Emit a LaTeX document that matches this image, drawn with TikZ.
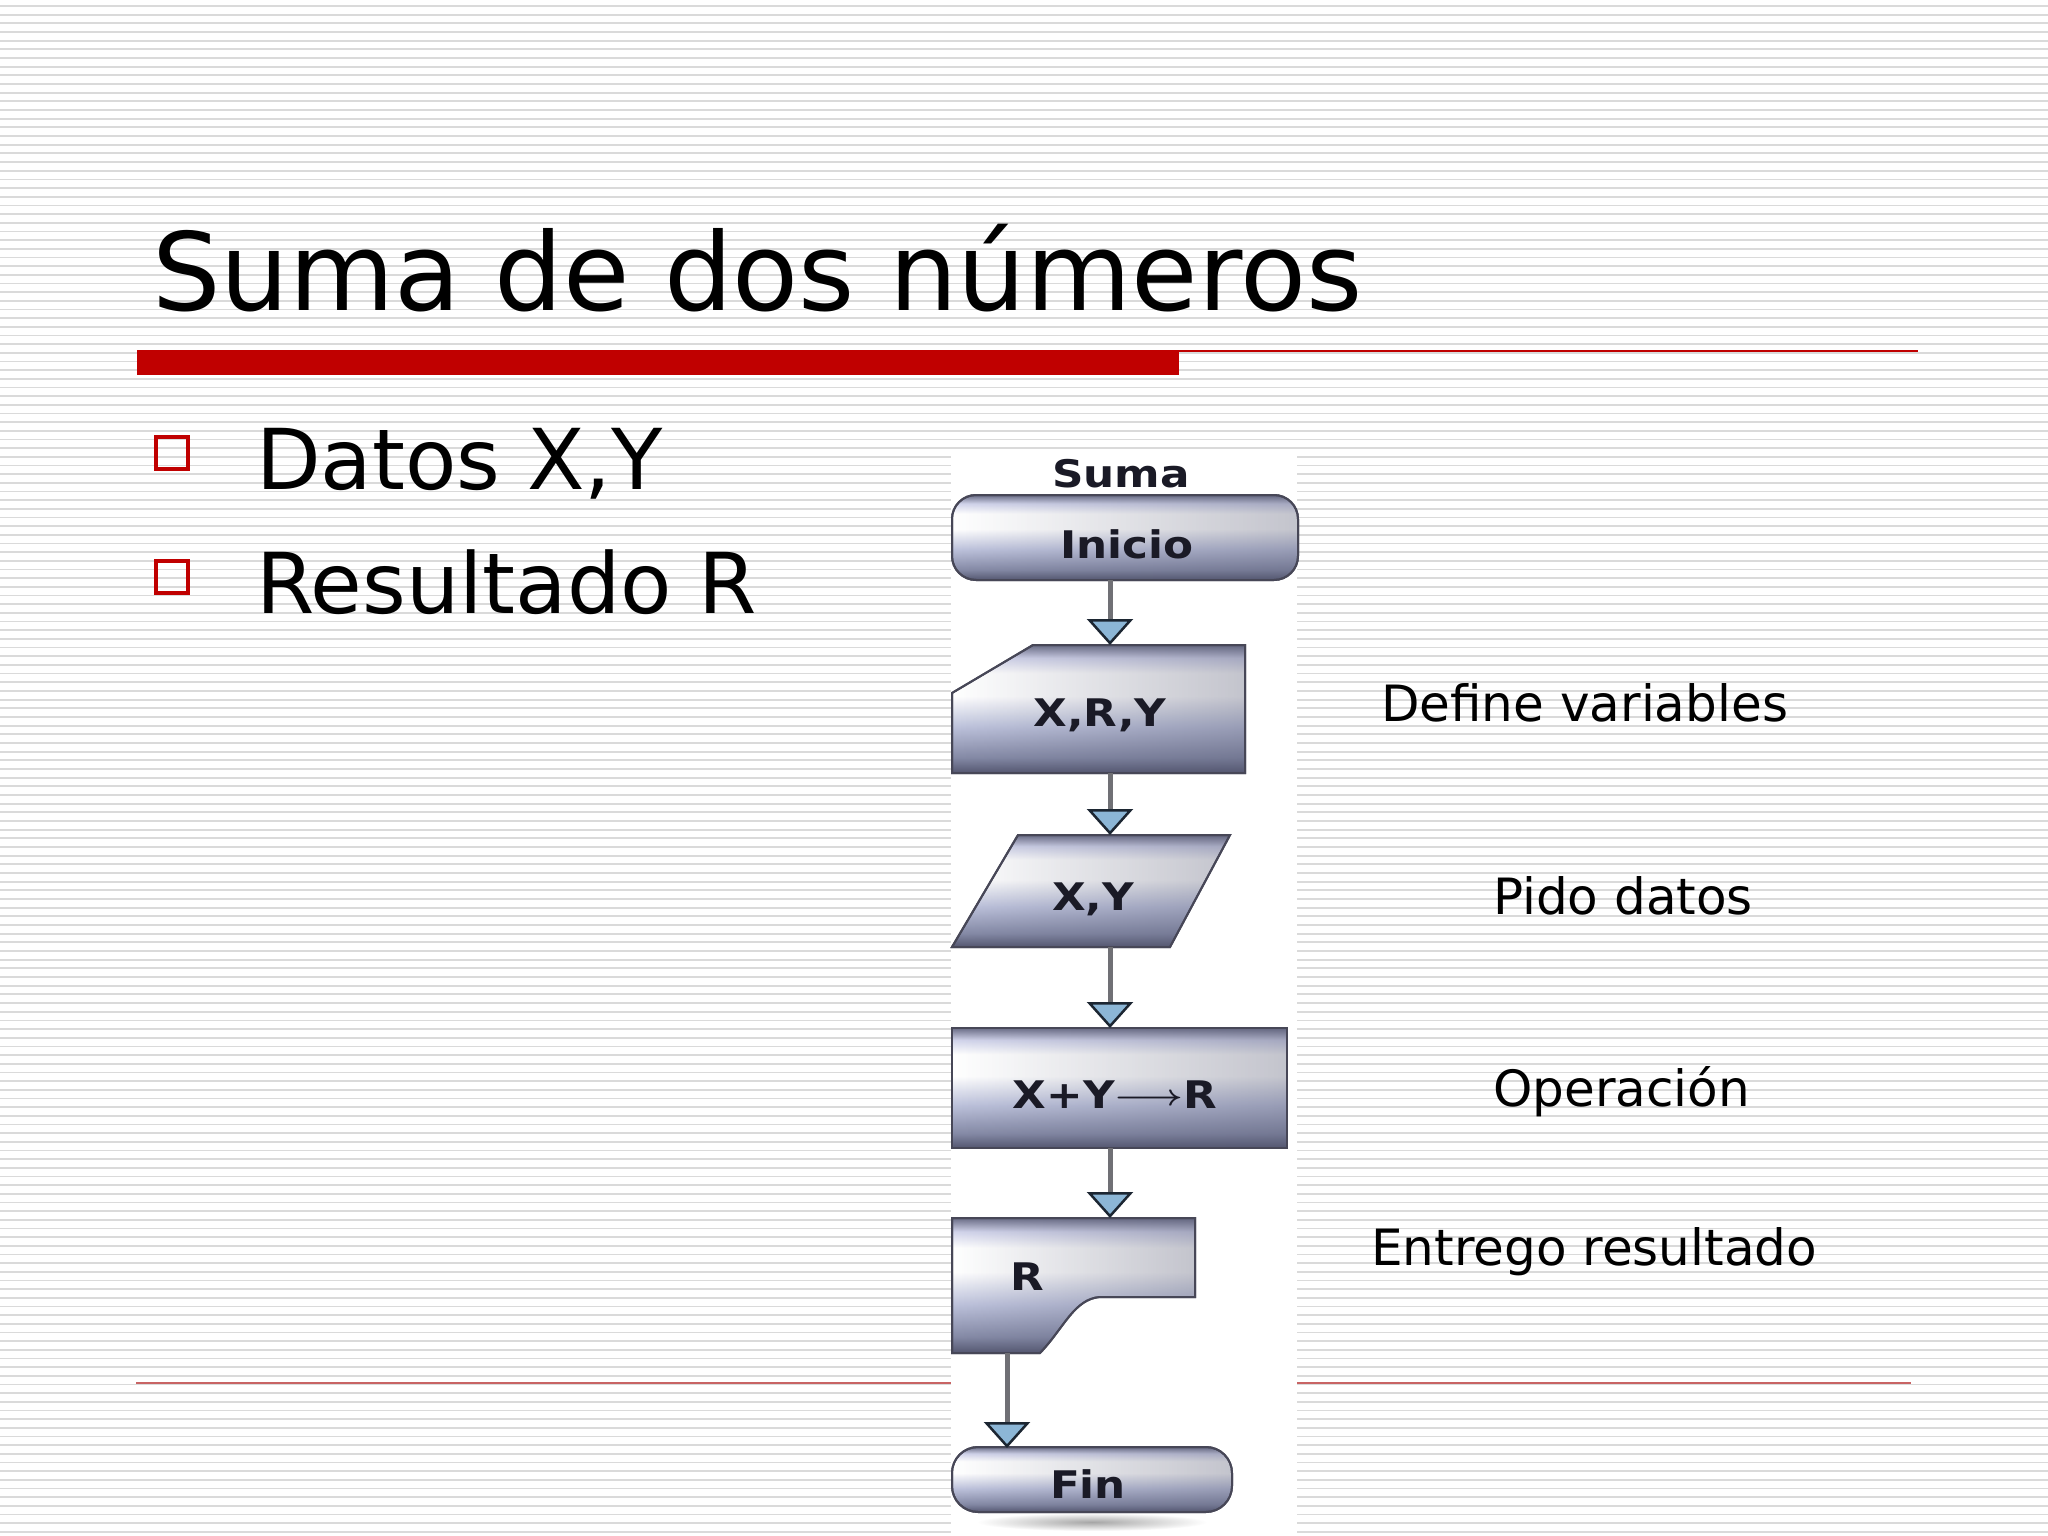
\documentclass[tikz,border=0pt]{standalone}
\usepackage{fontspec}
\setmainfont{DejaVu Sans}
\usepackage{graphicx}
\usetikzlibrary{arrows.meta,fadings}
\definecolor{slidered}{HTML}{C00000}
\definecolor{thinred}{HTML}{C86464}
\definecolor{bgline}{HTML}{DADADA}
\definecolor{m1}{rgb}{0.33,0.34,0.44}
\definecolor{m2}{rgb}{0.52,0.54,0.65}
\definecolor{m3}{rgb}{0.74,0.76,0.86}
\definecolor{m4}{rgb}{0.82,0.83,0.92}
\definecolor{m5}{rgb}{0.42,0.43,0.53}
\definecolor{edgecol}{rgb}{0.28,0.28,0.34}
\definecolor{conncol}{rgb}{0.44,0.44,0.46}
\definecolor{tipblue}{HTML}{8CB6D6}
\definecolor{tipedge}{HTML}{1C2632}
\definecolor{fctxt}{HTML}{1A1A26}
\pgfdeclareverticalshading{metal}{100bp}{color(0bp)=(m1); color(25bp)=(m1); color(31bp)=(m2); color(43bp)=(m3); color(55bp)=(white); color(64bp)=(white); color(70bp)=(m4); color(75bp)=(m5); color(100bp)=(m5)}
\newcommand\fct[1]{\scalebox{1.15}[1]{#1}}
\tikzset{
  metalshape/.style={shading=metal, draw=edgecol, line width=2pt},
  darkside/.style={fill=m1, opacity=0.35, path fading=west},
  fctext/.style={inner sep=0pt, anchor=base, text=fctxt, font=\fontsize{38}{40}\selectfont\bfseries},
  conn/.style={draw=conncol, line width=5pt, -{Triangle[width=46pt,length=26pt,fill=tipblue,color=tipedge,line width=2.5pt]}},
  lbl/.style={inner sep=0pt, anchor=base west, font=\fontsize{50}{60}\selectfont},
  bodytext/.style={inner sep=0pt, anchor=base west, font=\fontsize{84}{100}\selectfont},
  bulletbox/.style={draw=slidered, line width=4.5pt, minimum size=32pt, inner sep=0pt}
}
\begin{document}
\begin{tikzpicture}[x=1pt,y=-1pt]
\useasboundingbox (0,0) rectangle (2048,1536);
\fill[white] (0,0) rectangle (2048,1536);
% background stripes
\foreach \i in {0,...,177} {
  \pgfmathsetmacro{\yy}{6+\i*8.67}
  \draw[bgline, line width=1.8pt] (0,\yy) -- (2048,\yy);
}
% title
\node[inner sep=0pt, anchor=base west, font=\fontsize{108}{120}\selectfont] (title) at (152,310) {Suma de dos números};
\fill[slidered] (137,350) rectangle (1179,375);
\draw[slidered, line width=2pt] (1179,351) -- (1918,351);
\draw[thinred, line width=1.5pt] (136,1383) -- (1911,1383);
% bullets
\node[bulletbox] (b1) at (172,453) {};
\node[bulletbox] (b2) at (172,577) {};
\node[bodytext] (datos) at (256,489) {Datos X,Y};
\node[bodytext] (resul) at (256,613) {Resultado R};
% flowchart backdrop
\fill[white] (951,455) rectangle (1297,1536);
% shadow under Fin
\shade[inner color=black!35, outer color=white] (1092,1522) ellipse [x radius=115, y radius=9];
% Inicio terminator
\shade[metalshape, rounded corners=24pt] (952,495) rectangle (1298,580);
\fill[darkside, rounded corners=24pt] (952,495) rectangle (1298,580);
\draw[edgecol, line width=2pt, rounded corners=24pt] (952,495) rectangle (1298,580);
% X,R,Y manual input
\shade[metalshape] (952,693) -- (1033,645) -- (1245,645) -- (1245,773) -- (952,773) -- cycle;
\fill[darkside] (952,693) -- (1033,645) -- (1245,645) -- (1245,773) -- (952,773) -- cycle;
\draw[edgecol, line width=2pt] (952,693) -- (1033,645) -- (1245,645) -- (1245,773) -- (952,773) -- cycle;
% X,Y parallelogram
\shade[metalshape] (1018,835) -- (1230,835) -- (1170,947) -- (952,947) -- cycle;
\fill[darkside] (1018,835) -- (1230,835) -- (1170,947) -- (952,947) -- cycle;
\draw[edgecol, line width=2pt] (1018,835) -- (1230,835) -- (1170,947) -- (952,947) -- cycle;
% process rectangle
\shade[metalshape] (952,1028) rectangle (1287,1148);
\fill[darkside] (952,1028) rectangle (1287,1148);
\draw[edgecol, line width=2pt] (952,1028) rectangle (1287,1148);
% display shape R
\shade[metalshape] (952,1218) -- (1195,1218) -- (1195,1297) -- (1100,1297) .. controls (1074,1299) and (1064,1328) .. (1040,1353) -- (952,1353) -- cycle;
\fill[darkside] (952,1218) -- (1195,1218) -- (1195,1297) -- (1100,1297) .. controls (1074,1299) and (1064,1328) .. (1040,1353) -- (952,1353) -- cycle;
\draw[edgecol, line width=2pt] (952,1218) -- (1195,1218) -- (1195,1297) -- (1100,1297) .. controls (1074,1299) and (1064,1328) .. (1040,1353) -- (952,1353) -- cycle;
% Fin terminator
\shade[metalshape, rounded corners=26pt] (952,1447) rectangle (1232,1512);
\fill[darkside, rounded corners=26pt] (952,1447) rectangle (1232,1512);
\draw[edgecol, line width=2pt, rounded corners=26pt] (952,1447) rectangle (1232,1512);
% flowchart texts
\node[fctext] (suma) at (1121,487) {\fct{Suma}};
\node[fctext] (inicio) at (1127,558) {\fct{Inicio}};
\node[fctext] (xry) at (1100,726) {\fct{X,R,Y}};
\node[fctext] (xy) at (1093,910) {\fct{X,Y}};
\node[fctext] (op) at (1115,1108) {\fct{X+Y\raisebox{3pt}{\scalebox{1.3}[1.2]{\boldmath$\longrightarrow$}}R}};
\node[fctext] (res) at (1027,1290) {\fct{R}};
\node[fctext] (fin) at (1088,1498) {\fct{Fin}};
% connector end points
\coordinate (inicioS) at (1110,580);
\coordinate (xryN) at (1110,645);
\coordinate (xryS) at (1110,773);
\coordinate (xyN) at (1110,835);
\coordinate (xyS) at (1110,947);
\coordinate (opN) at (1110,1028);
\coordinate (opS) at (1110,1148);
\coordinate (resN) at (1110,1218);
\coordinate (resS) at (1007,1353);
\coordinate (finN) at (1007,1448);
\draw[conn] (inicioS) -- (xryN);
\draw[conn] (xryS) -- (xyN);
\draw[conn] (xyS) -- (opN);
\draw[conn] (opS) -- (resN);
\draw[conn] (resS) -- (finN);
% right labels
\node[lbl] (l1) at (1381,721) {Define variables};
\node[lbl] (l2) at (1493,914) {Pido datos};
\node[lbl] (l3) at (1493,1106) {Operación};
\node[lbl] (l4) at (1371,1265) {Entrego resultado};
\end{tikzpicture}
\end{document}
